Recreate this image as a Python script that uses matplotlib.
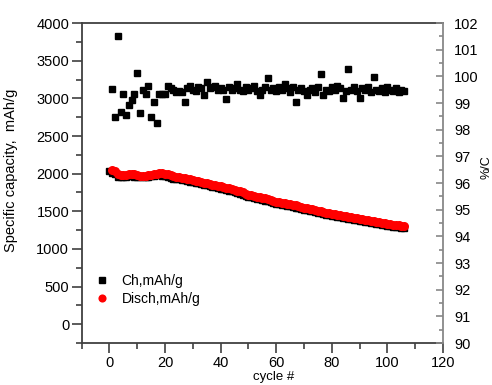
import matplotlib
matplotlib.use("Agg")
import matplotlib.pyplot as plt

plt.rcParams['font.family'] = ['Liberation Sans', 'DejaVu Sans']

# cycles and capacities (mAh/g)
disch_cycles = list(range(1, 107))
disch = [2050, 2040, 2000, 1985, 1980, 1985, 1990, 1995, 1990, 1985,
         1975, 1970, 1975, 1980, 1985, 1995, 2000, 2005, 2005, 2000,
         1990, 1980, 1970, 1960, 1955, 1945, 1940, 1930, 1925, 1915,
         1905, 1900, 1890, 1880, 1875, 1865, 1855, 1850, 1840, 1832,
         1823, 1815, 1805, 1795, 1785, 1775, 1765, 1750, 1735, 1720,
         1712, 1705, 1695, 1688, 1680, 1670, 1660, 1650, 1640, 1630,
         1622, 1615, 1607, 1600, 1592, 1585, 1578, 1570, 1560, 1550,
         1542, 1533, 1525, 1517, 1508, 1500, 1490, 1482, 1473, 1465,
         1458, 1452, 1445, 1440, 1433, 1428, 1422, 1415, 1408, 1400,
         1393, 1387, 1380, 1373, 1367, 1360, 1354, 1348, 1341, 1335,
         1330, 1323, 1317, 1312, 1306, 1300]

ch_cycles = list(range(0, 107))
ch = [2030,
      2010, 1990, 1960, 1950, 1955, 1960, 1965, 1965, 1960, 1955,
      1950, 1950, 1955, 1960, 1965, 1975, 1980, 1980, 1975, 1965,
      1955, 1945, 1935, 1930, 1925, 1915, 1910, 1900, 1895, 1885,
      1875, 1870, 1860, 1850, 1845, 1835, 1825, 1820, 1810, 1800,
      1792, 1785, 1775, 1765, 1755, 1745, 1735, 1722, 1707, 1692,
      1685, 1678, 1668, 1660, 1652, 1642, 1632, 1622, 1612, 1602,
      1595, 1588, 1580, 1572, 1565, 1558, 1550, 1542, 1532, 1522,
      1515, 1506, 1498, 1490, 1481, 1472, 1463, 1455, 1446, 1438,
      1431, 1425, 1418, 1413, 1406, 1401, 1395, 1388, 1381, 1373,
      1366, 1360, 1353, 1346, 1340, 1333, 1327, 1321, 1314, 1308,
      1303, 1296, 1290, 1285, 1279, 1273]

# coulombic efficiency (%), right axis
ce_cycles = list(range(1, 107))
ce = [99.51, 98.46, 101.51, 98.67, 99.34, 98.55, 98.92, 99.11, 99.34, 100.14,
      98.61, 99.49, 99.34, 99.65, 98.46, 99.05, 98.24, 99.34, 99.34, 99.34,
      99.65, 99.55, 99.49, 99.42, 99.45, 99.40, 99.05, 99.55, 99.65, 99.50,
      99.45, 99.60, 99.55, 99.30, 99.80, 99.55, 99.60, 99.65, 99.50, 99.55,
      99.50, 99.15, 99.60, 99.50, 99.55, 99.70, 99.50, 99.45, 99.60, 99.50,
      99.55, 99.65, 99.45, 99.30, 99.50, 99.60, 99.95, 99.50, 99.55, 99.45,
      99.60, 99.50, 99.70, 99.55, 99.40, 99.60, 99.05, 99.50, 99.55, 99.45,
      99.30, 99.50, 99.55, 99.40, 99.60, 100.08, 99.30, 99.50, 99.45, 99.60,
      99.50, 99.65, 99.55, 99.18, 99.45, 100.26, 99.50, 99.60, 99.45, 99.20,
      99.55, 99.50, 99.60, 99.40, 99.96, 99.50, 99.45, 99.55, 99.40, 99.60,
      99.50, 99.45, 99.55, 99.40, 99.50, 99.45]

fig = plt.figure(figsize=(4.92, 3.85), dpi=100)
ax = fig.add_axes([0.166, 0.109, 0.7344, 0.831])
ax2 = ax.twinx()

ax.plot(ch_cycles, ch, 's', color='black', markersize=4.3, label='Ch,mAh/g', zorder=2)
ax.plot(disch_cycles, disch, 'o', color='red', markersize=6.5, markeredgewidth=0,
        label='Disch,mAh/g', zorder=3)
ax2.plot(ce_cycles, ce, 's', color='black', markersize=4.3)

ax.set_xlim(-10, 120)
ax.set_ylim(-250, 4000)
ax2.set_ylim(90, 102)

ax.set_xticks(range(0, 121, 20))
ax.set_xticks(range(-10, 121, 10), minor=True)
ax.set_yticks(range(0, 4001, 500))
ax.set_yticks(range(-250, 4001, 250), minor=True)
ax2.set_yticks(range(90, 103))
ax2.set_yticks([90 + 0.5 * i for i in range(25)], minor=True)

for s in ['left', 'bottom', 'top']:
    ax.spines[s].set_color('#404040')
    ax.spines[s].set_linewidth(1.3)
ax.spines['right'].set_visible(False)
for s in ['left', 'bottom', 'top']:
    ax2.spines[s].set_visible(False)
ax2.spines['right'].set_color('#888888')
ax2.spines['right'].set_linewidth(1.3)

ax.tick_params(axis='both', which='major', direction='out', length=7, width=1.2,
               color='#404040', labelsize=10.5, pad=2)
ax.tick_params(axis='both', which='minor', direction='out', length=4, width=1.2,
               color='#404040')
ax2.tick_params(axis='y', which='major', direction='in', length=5, width=1.2,
                color='#888888', labelsize=10.5, pad=8)
ax2.tick_params(axis='y', which='minor', direction='in', length=3, width=1.2,
                color='#888888')

ax.set_ylabel('Specific capacity,  mAh/g', fontsize=10.5)
ax.yaxis.set_label_coords(-0.175, 0.54)
ax.set_xlabel('cycle #', fontsize=9.5)
ax.xaxis.set_label_coords(0.53, -0.086)
ax2.set_ylabel('%/C', fontsize=9, rotation=90)
ax2.yaxis.set_label_coords(1.105, 0.55)

ax.legend(loc='lower left', bbox_to_anchor=(0.01, 0.085), frameon=False, fontsize=10,
          handlelength=1.0, handletextpad=0.9, labelspacing=0.3, borderaxespad=0.3,
          markerscale=0.9)

fig.savefig('out.png', dpi=100)
